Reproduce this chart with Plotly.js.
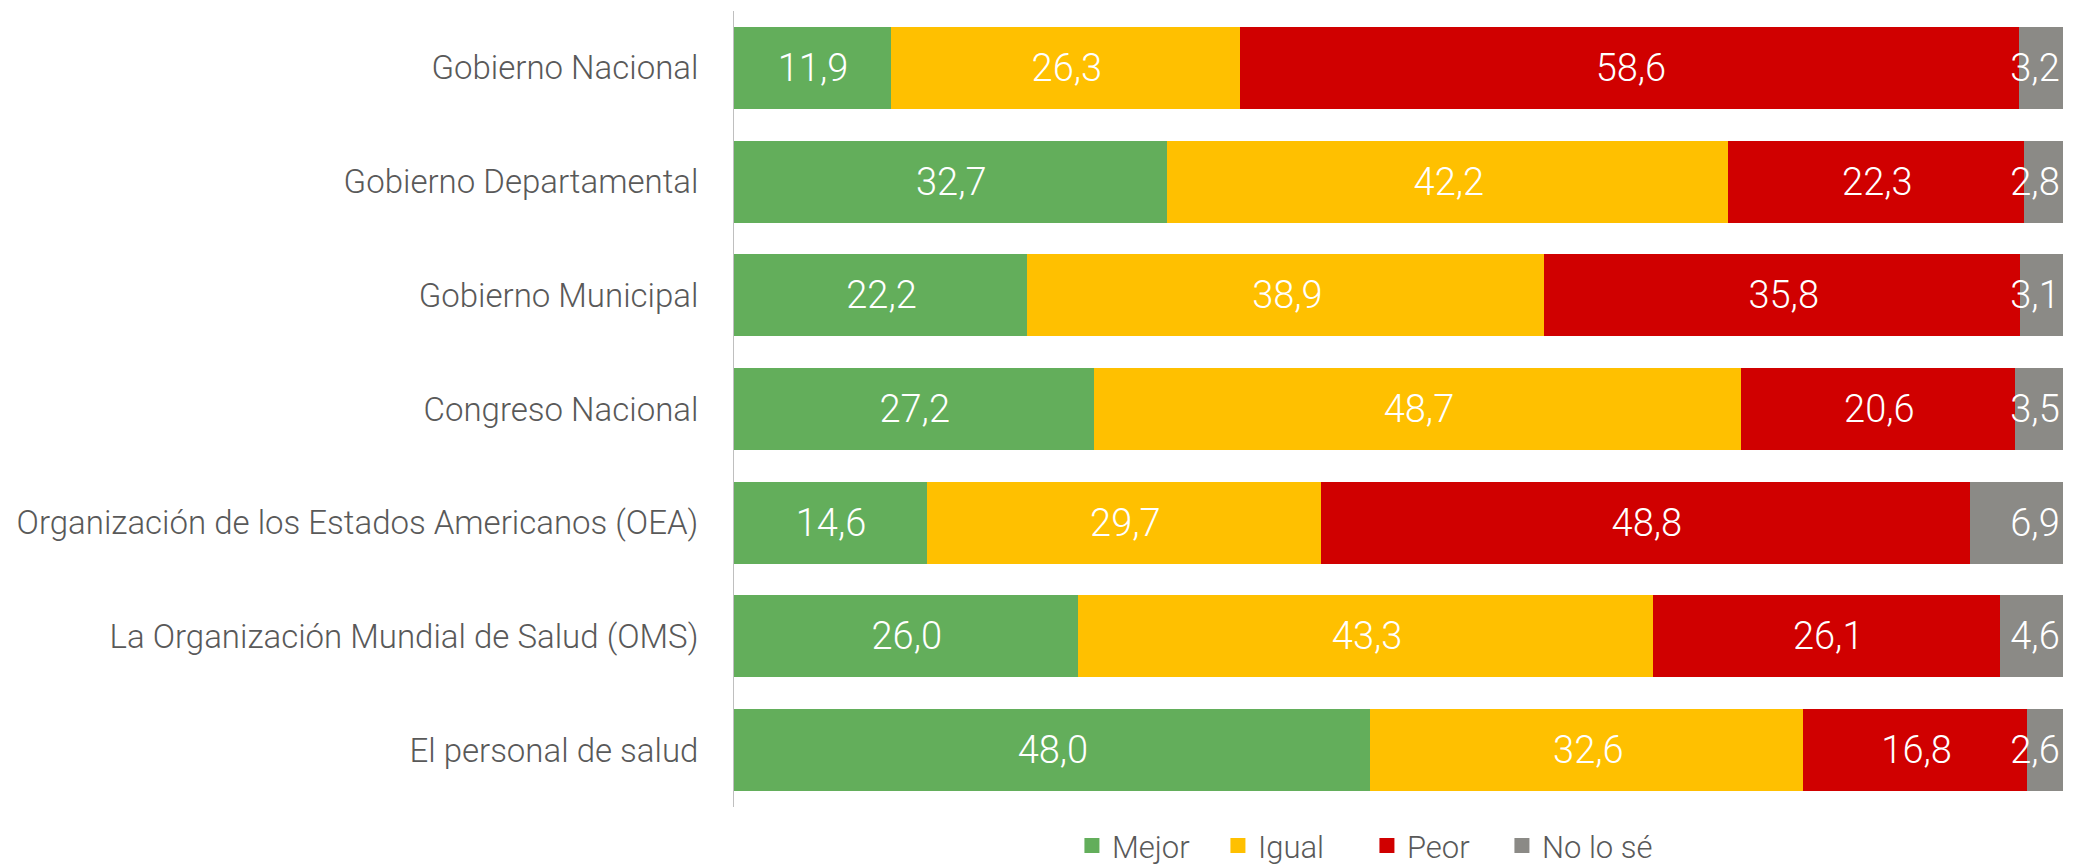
<!DOCTYPE html>
<html>
<head>
<meta charset="utf-8">
<script src="https://cdn.plot.ly/plotly-3.0.1.min.js"></script>
<style>html,body{margin:0;padding:0;background:#fff;}#chart{width:2079px;height:865px;}</style>
</head>
<body>
<div id="chart"></div>
<script>
const categories = [
  "Gobierno Nacional",
  "Gobierno Departamental",
  "Gobierno Municipal",
  "Congreso Nacional",
  "Organización de los Estados Americanos (OEA)",
  "La Organización Mundial de Salud (OMS)",
  "El personal de salud"
];
const seriesNames = ["Mejor", "Igual", "Peor", "No lo sé"];
const mejor = [11.9, 32.7, 22.2, 27.2, 14.6, 26.0, 48.0];
const igual = [26.3, 42.2, 38.9, 48.7, 29.7, 43.3, 32.6];
const peor  = [58.6, 22.3, 35.8, 20.6, 48.8, 26.1, 16.8];
const nolose = [3.2, 2.8, 3.1, 3.5, 6.9, 4.6, 2.6];
const colors = ["#63AE5B", "#FFC000", "#D00000", "#8B8A86"];
const legendWidths = [101, 104, 90, 125];

const FONT = "Roboto, 'Liberation Sans', sans-serif";
const fmt = v => v.toFixed(1).replace('.', ',');
const allSeries = [mejor, igual, peor, nolose];

const traces = allSeries.map((vals, i) => ({
  type: 'bar',
  orientation: 'h',
  name: seriesNames[i],
  y: categories,
  x: vals,
  text: vals.map(fmt),
  textposition: 'inside',
  insidetextanchor: i === 3 ? 'end' : 'middle',
  constraintext: 'none',
  textangle: 0,
  textfont: {family: FONT, size: 38, color: '#ffffff', weight: 300},
  marker: {color: colors[i], line: {width: 3, color: colors[i]}},
  legendwidth: legendWidths[i],
  hoverinfo: 'none',
  cliponaxis: false
}));

const layout = {
  width: 2079, height: 865,
  margin: {l: 734, r: 16, t: 11, b: 58, pad: 0},
  barmode: 'stack',
  bargap: 0.305,
  paper_bgcolor: '#ffffff',
  plot_bgcolor: '#ffffff',
  showlegend: true,
  legend: {
    orientation: 'h', xref: 'container', yref: 'container',
    x: 0.5156, xanchor: 'left', y: 0.022, yanchor: 'middle',
    font: {family: FONT, size: 31, color: '#595959', weight: 300},
    itemwidth: 30, traceorder: 'normal'
  },
  xaxis: {range: [0, 100.02], visible: false, fixedrange: true},
  yaxis: {
    autorange: 'reversed', showline: true, linecolor: '#BFBFBF', linewidth: 1,
    ticks: 'outside', ticklen: 28, tickcolor: 'rgba(0,0,0,0)',
    showgrid: false, zeroline: false,
    tickfont: {family: FONT, size: 33, color: '#595959', weight: 300}
  }
};

Plotly.newPlot('chart', traces, layout, {staticPlot: true, displayModeBar: false});
</script>
</body>
</html>
